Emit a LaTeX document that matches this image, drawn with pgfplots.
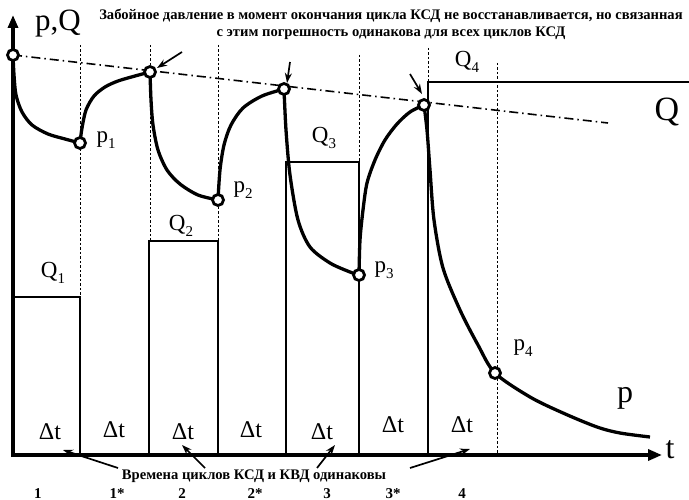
\documentclass[border=0pt]{standalone}
\usepackage{pgfplots}
\pgfplotsset{compat=1.18}
\usetikzlibrary{arrows.meta}
\usepackage{fontspec}
\setmainfont{Liberation Serif}
\newcommand\fs[1]{\fontsize{#1}{#1}\selectfont}
\newcommand\sub[1]{\raisebox{-0.28em}{\fs{15}#1}}
\begin{document}
\begin{tikzpicture}
\begin{axis}[
  scale only axis, width=689pt, height=500pt,
  xmin=0, xmax=689, ymin=0, ymax=500, y dir=reverse,
  axis lines=none, clip=false,
]
% dash-dot reference line
\addplot[black, line width=1.6pt, dash pattern=on 9pt off 4pt on 1.5pt off 4pt] coordinates {(13,55) (608,123)};
% thin dashed verticals
\addplot[black, line width=0.8pt, dash pattern=on 2.5pt off 2pt] coordinates {(80,45) (80,297)};
\addplot[black, line width=0.8pt, dash pattern=on 2.5pt off 2pt] coordinates {(150,45) (150,241)};
\addplot[black, line width=0.8pt, dash pattern=on 2.5pt off 2pt] coordinates {(218,45) (218,241)};
\addplot[black, line width=0.8pt, dash pattern=on 2.5pt off 2pt] coordinates {(359,55) (359,162)};
\addplot[black, line width=0.8pt, dash pattern=on 2.5pt off 2pt] coordinates {(428,48) (428,82)};
\addplot[black, line width=0.8pt, dash pattern=on 2.5pt off 2pt] coordinates {(497,63) (497,455)};
% Q boxes
\addplot[black, line width=2.9pt] coordinates {(13,297) (80,297) (80,455)};
\addplot[black, line width=2.9pt] coordinates {(149,455) (149,241) (218,241) (218,455)};
\addplot[black, line width=2.9pt] coordinates {(286,455) (286,162) (359,162) (359,455)};
\addplot[black, line width=2.9pt] coordinates {(428,455) (428,82) (689,82)};
% pressure curve
\addplot[black, line width=3.3pt, smooth] coordinates {(13,55) (14,75) (16,95) (22,112) (32,125) (48,134) (65,139) (80,143)};
\addplot[black, line width=3.3pt, smooth] coordinates {(80,143) (82,128) (86,110) (94,96) (105,87) (118,81) (135,76) (150,72)};
\addplot[black, line width=3.3pt, smooth] coordinates {(150,72) (151,100) (153,125) (158,150) (167,170) (180,184) (198,195) (218,200)};
\addplot[black, line width=3.3pt, smooth] coordinates {(218,200) (220,170) (224,145) (231,125) (243,108) (262,96) (284,89)};
\addplot[black, line width=3.3pt, smooth] coordinates {(284,89) (286,130) (290,175) (298,220) (310,247) (330,263) (350,272) (359,275)};
\addplot[black, line width=3.3pt, smooth] coordinates {(359,275) (360,240) (363,210) (367,183) (375,160) (385,140) (397,124) (410,112) (424,105)};
\addplot[black, line width=3.3pt, smooth] coordinates {(424,105) (427,130) (430,170) (434,220) (443,268) (460,310) (478,345) (495,373) (530,397) (563,413) (597,427) (620,433) (650,437)};
% axes
\addplot[black, line width=3.3pt, -{Triangle[length=13pt,width=10pt]}] coordinates {(13,457) (13,15)};
\addplot[black, line width=3.3pt, -{Triangle[length=14pt,width=11pt]}] coordinates {(11,455) (662,455)};
% circles
\addplot[only marks, mark=*, mark size=5.5pt, mark options={fill=white, draw=black, line width=2.8pt}] coordinates {(13,55) (80,143) (150,72) (218,200) (284,89) (359,275) (424,105) (495,373)};
% arrows
\draw[line width=1.7pt, -{Stealth[length=10pt,width=7pt]}] (axis cs:182,52) -- (axis cs:157,68);
\draw[line width=1.7pt, -{Stealth[length=10pt,width=7pt]}] (axis cs:290,62) -- (axis cs:287,83);
\draw[line width=1.7pt, -{Stealth[length=10pt,width=7pt]}] (axis cs:410,74) -- (axis cs:422,94);
\draw[line width=1.7pt, -{Stealth[length=10pt,width=7pt]}] (axis cs:118,468) -- (axis cs:63,450);
\draw[line width=1.7pt, -{Stealth[length=10pt,width=7pt]}] (axis cs:205,468) -- (axis cs:182,445);
\draw[line width=1.7pt, -{Stealth[length=10pt,width=7pt]}] (axis cs:317,468) -- (axis cs:335,445);
\draw[line width=1.7pt, -{Stealth[length=10pt,width=7pt]}] (axis cs:410,468) -- (axis cs:470,449);
% labels
\node[font=\fs{31}] at (axis cs:58,24) {p,Q};
\node[font=\fs{32}] at (axis cs:670,450) {t};
\node[font=\fs{32}] at (axis cs:625,398) {p};
\node[font=\fs{34}] at (axis cs:667,112) {Q};
\node[font=\fs{23}] at (axis cs:106,140) {p\sub{1}};
\node[font=\fs{23}] at (axis cs:243,190) {p\sub{2}};
\node[font=\fs{23}] at (axis cs:384,270) {p\sub{3}};
\node[font=\fs{23}] at (axis cs:523,348) {p\sub{4}};
\node[font=\fs{23}] at (axis cs:53,273) {Q\sub{1}};
\node[font=\fs{23}] at (axis cs:181,226) {Q\sub{2}};
\node[font=\fs{23}] at (axis cs:324,138) {Q\sub{3}};
\node[font=\fs{23}] at (axis cs:467,62) {Q\sub{4}};
\node[font=\fs{24}] at (axis cs:50,432) {Δt};
\node[font=\fs{24}] at (axis cs:114,430) {Δt};
\node[font=\fs{24}] at (axis cs:183,432) {Δt};
\node[font=\fs{24}] at (axis cs:251,430) {Δt};
\node[font=\fs{24}] at (axis cs:322,432) {Δt};
\node[font=\fs{24}] at (axis cs:393,425) {Δt};
\node[font=\fs{24}] at (axis cs:462,425) {Δt};
\node[font=\fs{15}\bfseries, anchor=base, inner sep=0pt] at (axis cs:38,498) {1};
\node[font=\fs{15}\bfseries, anchor=base, inner sep=0pt] at (axis cs:117,498) {1*};
\node[font=\fs{15}\bfseries, anchor=base, inner sep=0pt] at (axis cs:182,498) {2};
\node[font=\fs{15}\bfseries, anchor=base, inner sep=0pt] at (axis cs:255,498) {2*};
\node[font=\fs{15}\bfseries, anchor=base, inner sep=0pt] at (axis cs:327,498) {3};
\node[font=\fs{15}\bfseries, anchor=base, inner sep=0pt] at (axis cs:393,498) {3*};
\node[font=\fs{15}\bfseries, anchor=base, inner sep=0pt] at (axis cs:462,498) {4};
\node[font=\fs{14.6}\bfseries] at (axis cs:254,476) {Времена циклов КСД и КВД одинаковы};
\node[font=\fs{14.6}\bfseries] at (axis cs:391,16) {Забойное давление в момент окончания цикла КСД не восстанавливается, но связанная};
\node[font=\fs{14.6}\bfseries] at (axis cs:391,33) {с этим погрешность одинакова для всех циклов КСД};
\end{axis}
\pgfresetboundingbox
\path[use as bounding box] (current axis.south west) rectangle (current axis.north east);
\end{tikzpicture}
\end{document}
